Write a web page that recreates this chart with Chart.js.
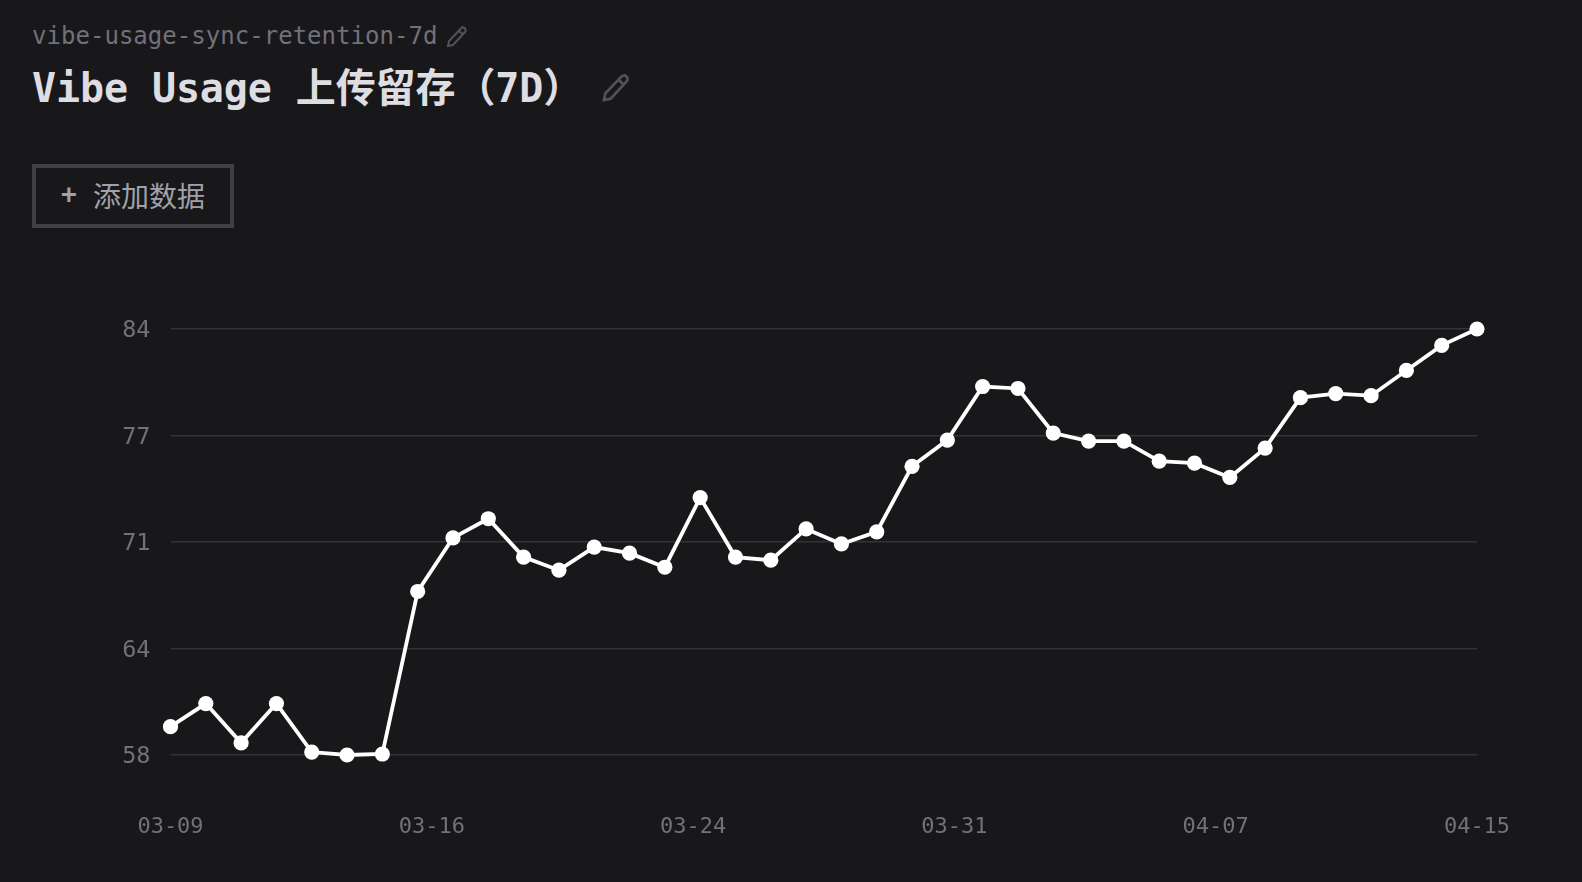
<!DOCTYPE html>
<html lang="zh">
<head>
<meta charset="utf-8">
<style>
html,body{margin:0;padding:0;background:#18181b;width:1582px;height:882px;overflow:hidden}
*{box-sizing:border-box}
.abs{position:absolute;white-space:pre;font-family:"DejaVu Sans Mono","Noto Sans CJK SC",monospace;line-height:1}
#slug{left:32px;top:24px;font-size:24px;color:#71717a;letter-spacing:0.03px}
#title{left:32px;top:68px;font-size:40px;font-weight:700;color:#dedee2;letter-spacing:-0.1px}
#btn{left:32px;top:164px;width:202px;height:64px;border:4px solid #3f3f46}
#plus{left:61px;top:181px;font-size:26px;font-weight:700;color:#a1a1aa}
#btnText{left:93px;top:181px;font-size:28px;color:#a1a1aa;font-family:"Noto Sans CJK SC",sans-serif}
svg{position:absolute}
canvas{position:absolute;left:0;top:0}
</style>
</head>
<body>
<div class="abs" id="slug">vibe-usage-sync-retention-7d</div>
<svg style="left:445px;top:25px" width="24" height="24" viewBox="0 0 24 24" fill="none" stroke="#52525b" stroke-width="2"><path d="M3 21l1-5L16 3.5a2.5 2.5 0 0 1 4 3.5L8 20z"/><path d="M14 6l4 3.5"/></svg>
<div class="abs" id="title">Vibe Usage 上传留存（7D）</div>
<svg style="left:600px;top:72px" width="32" height="32" viewBox="0 0 24 24" fill="none" stroke="#52525b" stroke-width="2"><path d="M3 21l1-5L16 3.5a2.5 2.5 0 0 1 4 3.5L8 20z"/><path d="M14 6l4 3.5"/></svg>
<div class="abs" id="btn"></div>
<div class="abs" id="plus">+</div>
<div class="abs" id="btnText">添加数据</div>
<canvas id="c" width="1582" height="882"></canvas>
<script src="https://cdn.jsdelivr.net/npm/chart.js@4/dist/chart.umd.min.js"></script>
<script>
const retention = [59.73,61.14,58.74,61.14,58.18,58.0,58.06,67.98,71.25,72.42,70.08,69.28,70.69,70.32,69.46,73.71,70.08,69.89,71.8,70.88,71.62,75.62,77.22,80.49,80.37,77.65,77.16,77.16,75.93,75.81,74.94,76.73,79.81,80.06,79.93,81.47,83.0,84.0];
const xTickLabels = ["03-09","03-16","03-24","03-31","04-07","04-15"];
const yTickLabels = ["58","64","71","77","84"];
const xTickFont = {family:'"DejaVu Sans Mono",monospace', size:22};
const yTickFont = {family:'"DejaVu Sans Mono",monospace', size:23.5};
new Chart(document.getElementById('c'),{
  type:'line',
  data:{datasets:[{
    data:retention.map((y,x)=>({x,y})),
    borderColor:'#ffffff',backgroundColor:'#ffffff',
    borderWidth:3.8,pointRadius:7.6,pointBorderWidth:0,
    pointBackgroundColor:'#ffffff',tension:0,clip:false
  }]},
  options:{
    responsive:false,animation:false,devicePixelRatio:1,
    layout:{padding:{left:0,right:105,top:329,bottom:0}},
    plugins:{legend:{display:false},tooltip:{enabled:false}},
    scales:{
      x:{type:'linear',min:0,max:37,
        grid:{display:false},border:{display:false},
        afterFit:s=>{s.height=127},
        ticks:{stepSize:7.4,autoSkip:false,maxRotation:0,padding:51,color:'#71717a',font:xTickFont,
          callback:(v,i)=>xTickLabels[i]}},
      y:{type:'linear',min:58,max:84,
        grid:{color:'#333338',lineWidth:1.5,drawTicks:false},border:{display:false},
        afterFit:s=>{s.width=170.5},
        ticks:{stepSize:6.5,padding:20,labelOffset:2,color:'#71717a',font:yTickFont,
          callback:(v,i)=>yTickLabels[i]}}
    }
  }
});
</script>
</body>
</html>
